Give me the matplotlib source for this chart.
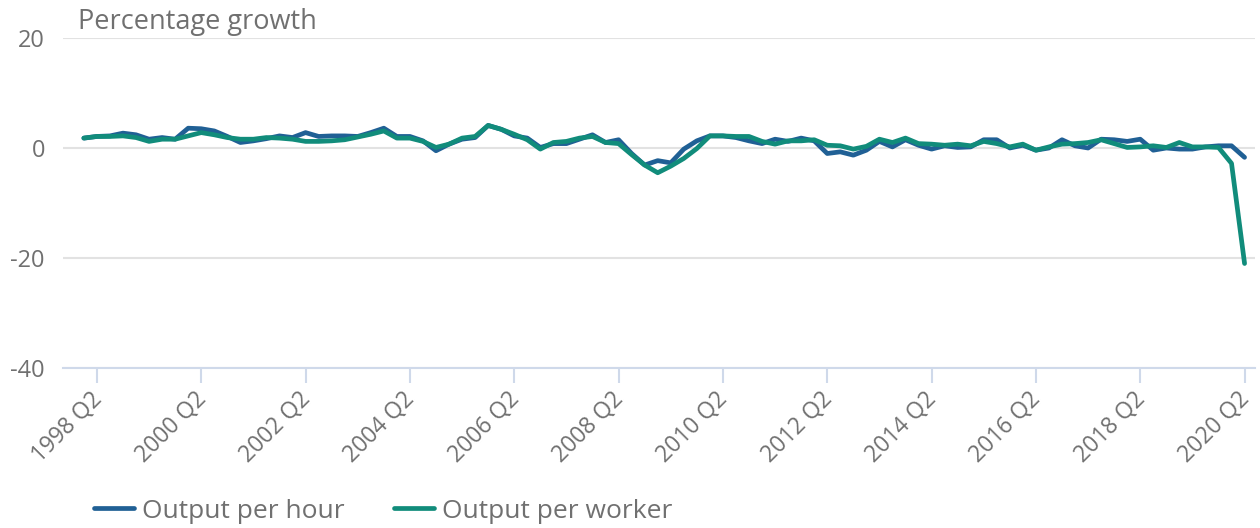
import matplotlib
matplotlib.use("Agg")
import matplotlib.pyplot as plt
import matplotlib.transforms as mtransforms

plt.rcParams['font.family'] = ['Open Sans', 'DejaVu Sans']

quarters = [f"{y} Q{q}" for y in range(1998, 2021) for q in range(1, 5)]
quarters = quarters[:quarters.index("2020 Q2") + 1]

output_per_hour = [
    1.8, 2.1, 2.2, 2.7, 2.4, 1.6, 1.9, 1.6, 3.6, 3.5,
    3.1, 2.1, 1.0, 1.3, 1.7, 2.2, 1.9, 2.8, 2.1, 2.2,
    2.2, 2.1, 2.8, 3.6, 2.1, 2.1, 1.3, -0.5, 0.7, 1.6,
    1.9, 4.1, 3.4, 2.2, 1.8, 0.1, 0.8, 0.8, 1.6, 2.4,
    1.0, 1.5, -1.0, -3.1, -2.3, -2.7, -0.2, 1.3, 2.2, 2.2,
    1.9, 1.3, 0.8, 1.6, 1.2, 1.8, 1.3, -1.0, -0.7, -1.3,
    -0.4, 1.2, 0.2, 1.5, 0.5, -0.2, 0.4, 0.1, 0.2, 1.5,
    1.5, 0.0, 0.5, -0.4, 0.0, 1.5, 0.4, 0.0, 1.6, 1.5,
    1.2, 1.6, -0.4, 0.0, -0.2, -0.2, 0.2, 0.4, 0.4, -1.7,
]
output_per_worker = [
    1.8, 2.1, 2.1, 2.2, 1.9, 1.2, 1.6, 1.6, 2.2, 2.8,
    2.4, 1.9, 1.6, 1.6, 1.9, 1.8, 1.6, 1.2, 1.2, 1.3,
    1.5, 2.0, 2.5, 3.1, 1.8, 1.8, 1.2, 0.1, 0.7, 1.8,
    2.1, 4.1, 3.4, 2.5, 1.5, -0.2, 1.0, 1.2, 1.8, 2.1,
    1.0, 0.8, -1.2, -3.1, -4.5, -3.3, -1.9, -0.1, 2.2, 2.2,
    2.1, 2.1, 1.2, 0.7, 1.3, 1.3, 1.5, 0.5, 0.4, -0.2,
    0.3, 1.6, 1.0, 1.8, 0.8, 0.7, 0.5, 0.7, 0.4, 1.2,
    0.8, 0.2, 0.7, -0.4, 0.2, 0.7, 0.8, 1.0, 1.5, 0.8,
    0.1, 0.2, 0.4, 0.1, 1.0, 0.2, 0.2, 0.1, -2.8, -21.0,
]
series_names = ["Output per hour", "Output per worker"]
series_colors = ["#206095", "#118c7b"]
y_ticks = [-40, -20, 0, 20]
x_tick_labels = [q for q in quarters if q.endswith("Q2") and int(q[:4]) % 2 == 0]

fig = plt.figure(figsize=(12.6, 5.28), dpi=100)
ax = fig.add_axes([63 / 1260, (528 - 368) / 528, (1255 - 63) / 1260, 330 / 528])

x = list(range(len(quarters)))
for vals, name, col in zip([output_per_hour, output_per_worker], series_names, series_colors):
    ax.plot(x, vals, color=col, lw=3.4, label=name, solid_joinstyle='round', solid_capstyle='round')

ax.set_ylim(-40, 20)
ax.set_xlim(-1.6, 89.8)
ax.set_yticks(y_ticks)
ax.set_yticklabels([str(v) for v in y_ticks])
ax.grid(axis='y', color='#e2e2e2', lw=1.5)
ax.set_axisbelow(True)
for s in ['top', 'right', 'left']:
    ax.spines[s].set_visible(False)
ax.spines['bottom'].set_color('#cfd9ea')
ax.spines['bottom'].set_linewidth(1.5)

tick_pos = [quarters.index(q) for q in x_tick_labels]
ax.set_xticks(tick_pos)
ax.set_xticklabels(x_tick_labels, rotation=45, ha='right', rotation_mode='anchor')
ax.tick_params(axis='x', length=11, width=1.5, color='#cfd9ea', labelsize=16.5, labelcolor='#707070', pad=3)
ax.tick_params(axis='y', length=0, labelsize=17, labelcolor='#707070', pad=13)
offset = mtransforms.ScaledTranslation(-7 / 100, 0, fig.dpi_scale_trans)
for lbl in ax.get_xticklabels():
    lbl.set_transform(lbl.get_transform() + offset)

fig.text(78 / 1260, 1 - 22 / 528, "Percentage growth", fontsize=19.5, color='#707070', va='center', ha='left')

fig.legend(loc='center left', bbox_to_anchor=(94 / 1260, 1 - 511 / 528), ncol=2, frameon=False,
           fontsize=19, labelcolor='#707070', handlelength=1.5, handletextpad=0.3, columnspacing=1.9,
           borderaxespad=0, borderpad=0)

fig.savefig("out.png", dpi=100)
